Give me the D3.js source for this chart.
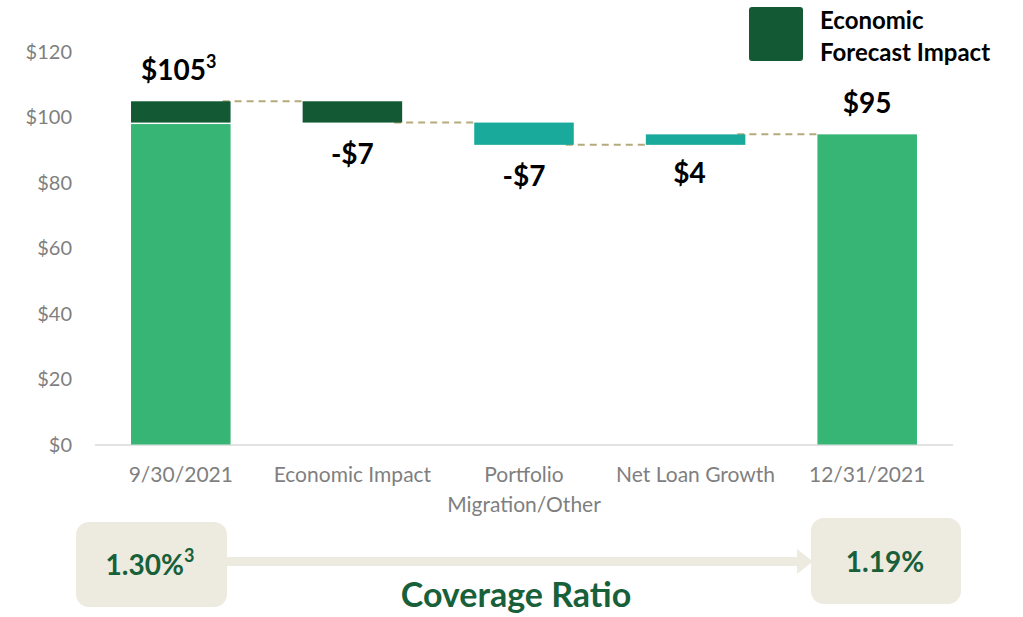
<!DOCTYPE html>
<html>
<head>
<meta charset="utf-8">
<script src="https://cdn.jsdelivr.net/npm/d3@7"></script>
<style>
  body { margin: 0; background: #fff; }
  svg text { font-family: Lato, "Open Sans", sans-serif; }
</style>
</head>
<body>
<div class="canvas"></div>
<script>
var width = 1023,
	height = 617;

// ---- data ----
var categories = ["9/30/2021", "Economic Impact", "Portfolio Migration/Other", "Net Loan Growth", "12/31/2021"];
var stepValues = [104.8, -6.5, -6.8, 3.2, null];   // null = total bar
var forecastPart = 6.5;                            // dark top of first bar
var valueLabels = ["$105", "-$7", "-$7", "$4", "$95"];
var labelSup = ["3", "", "", "", ""];
var yTicks = [0, 20, 40, 60, 80, 100, 120];
var ratioStart = "1.30%", ratioEnd = "1.19%";

var colLight = "#36b574",
	colDark = "#135a34",
	colTeal = "#19aa9c",
	colLink = "#b5aa7c",
	colBox = "#edeae0",
	colText = "#17603a";

var svg = d3.select(".canvas")
	.append("svg")
	.attr("width", width)
	.attr("height", height);

var x = d3.scaleBand()
	.domain(categories)
	.range([95, 953])
	.paddingInner(0.42)
	.paddingOuter(0.21);

var y = d3.scaleLinear()
	.domain([0, 120])
	.range([444.5, 51.5]);

// build waterfall segments
var bars = [];
var running = 0;
stepValues.forEach(function(v, i) {
	var c = categories[i];
	if (i === 0) {
		bars.push({ cat: c, y0: 0, y1: v - forecastPart, color: colLight, gap: true });
		bars.push({ cat: c, y0: v - forecastPart, y1: v, color: colDark });
		running = v;
	} else if (v === null) {
		bars.push({ cat: c, y0: 0, y1: running, color: colLight });
	} else {
		var start = running;
		running += v;
		bars.push({ cat: c, y0: Math.min(start, running), y1: Math.max(start, running),
			color: i === 1 ? colDark : colTeal });
	}
});

// y axis labels
svg.append("g").selectAll("text")
	.data(yTicks)
	.enter().append("text")
	.attr("x", 72)
	.attr("y", function(d) { return y(d); })
	.attr("dy", "0.35em")
	.attr("text-anchor", "end")
	.attr("font-size", 20)
	.attr("fill", "#7f7f7f")
	.text(function(d) { return "$" + d; });

// baseline
svg.append("line")
	.attr("x1", 95).attr("x2", 953)
	.attr("y1", y(0) + 0.5).attr("y2", y(0) + 0.5)
	.attr("stroke", "#d9d9d9")
	.attr("stroke-width", 1.5);

// connectors
var levels = [stepValues[0]];
var acc = stepValues[0];
for (var i = 1; i < stepValues.length - 1; i++) { acc += stepValues[i]; levels.push(acc); }
svg.append("g").selectAll("line")
	.data(levels)
	.enter().append("line")
	.attr("x1", function(d, i) { return x(categories[i]) + x.bandwidth() - 8; })
	.attr("x2", function(d, i) { return x(categories[i + 1]); })
	.attr("y1", function(d) { return y(d); })
	.attr("y2", function(d) { return y(d); })
	.attr("stroke", colLink)
	.attr("stroke-width", 2)
	.attr("stroke-dasharray", "7,5");

// bars
svg.append("g").selectAll("rect")
	.data(bars)
	.enter().append("rect")
	.attr("x", function(d) { return x(d.cat); })
	.attr("width", x.bandwidth())
	.attr("y", function(d) { return y(d.y1) + (d.gap ? 1.5 : 0); })
	.attr("height", function(d) { return y(d.y0) - y(d.y1) - (d.gap ? 1.5 : 0); })
	.attr("fill", function(d) { return d.color; });

// value labels
var labelPos = [
	{ v: stepValues[0], off: -21 },
	{ v: levels[1], off: 41 },
	{ v: levels[2], off: 41 },
	{ v: levels[2], off: 38 },
	{ v: levels[3], off: -21 }
];
var lbl = svg.append("g").selectAll("text")
	.data(valueLabels)
	.enter().append("text")
	.attr("x", function(d, i) { return x(categories[i]) + x.bandwidth() / 2 + (i === 3 ? -6 : 0) + (i === 0 ? -2 : 0); })
	.attr("y", function(d, i) { return y(labelPos[i].v) + labelPos[i].off; })
	.attr("text-anchor", "middle")
	.attr("font-size", 28)
	.attr("font-weight", "bold")
	.attr("fill", "#000")
	.text(function(d) { return d; });
lbl.append("tspan")
	.attr("font-size", 18)
	.attr("dy", "-0.7em")
	.text(function(d, i) { return labelSup[i]; });

// x labels
svg.append("g").selectAll("text")
	.data(categories)
	.enter().append("text")
	.attr("x", function(d) { return x(d) + x.bandwidth() / 2; })
	.attr("y", 482)
	.attr("text-anchor", "middle")
	.attr("font-size", 21)
	.attr("fill", "#7f7f7f")
	.each(function(d) {
		var t = d3.select(this);
		var parts = d === "Portfolio Migration/Other" ? ["Portfolio", "Migration/Other"] : [d];
		parts.forEach(function(p, k) {
			t.append("tspan").attr("x", t.attr("x")).attr("dy", k ? 30 : 0).text(p);
		});
	});

// legend
svg.append("rect")
	.attr("x", 749).attr("y", 7)
	.attr("width", 54).attr("height", 54)
	.attr("rx", 3)
	.attr("fill", colDark);
svg.append("text")
	.attr("x", 820).attr("y", 29)
	.attr("font-size", 24).attr("font-weight", "bold")
	.text("Economic");
svg.append("text")
	.attr("x", 820).attr("y", 61)
	.attr("font-size", 24).attr("font-weight", "bold")
	.text("Forecast Impact");

// coverage ratio
var cov = svg.append("g");
cov.append("rect")
	.attr("x", 227).attr("y", 557)
	.attr("width", 572).attr("height", 9)
	.attr("fill", colBox);
cov.append("path")
	.attr("d", "M797,549 L813,561.5 L797,574 Z")
	.attr("fill", colBox);
cov.append("rect")
	.attr("x", 76).attr("y", 522).attr("width", 151).attr("height", 85)
	.attr("rx", 13).attr("fill", colBox);
cov.append("rect")
	.attr("x", 811).attr("y", 518).attr("width", 150).attr("height", 86)
	.attr("rx", 13).attr("fill", colBox);

var r1 = cov.append("text")
	.attr("x", 150).attr("y", 575)
	.attr("text-anchor", "middle")
	.attr("font-size", 28).attr("font-weight", "bold")
	.attr("fill", colText)
	.text(ratioStart);
r1.append("tspan").attr("font-size", 18).attr("dy", "-0.7em").text("3");

cov.append("text")
	.attr("x", 885).attr("y", 572)
	.attr("text-anchor", "middle")
	.attr("font-size", 28).attr("font-weight", "bold")
	.attr("fill", colText)
	.text(ratioEnd);

cov.append("text")
	.attr("x", 516).attr("y", 607)
	.attr("text-anchor", "middle")
	.attr("font-size", 34).attr("font-weight", "bold")
	.attr("fill", colText)
	.text("Coverage Ratio");
</script>
</body>
</html>
